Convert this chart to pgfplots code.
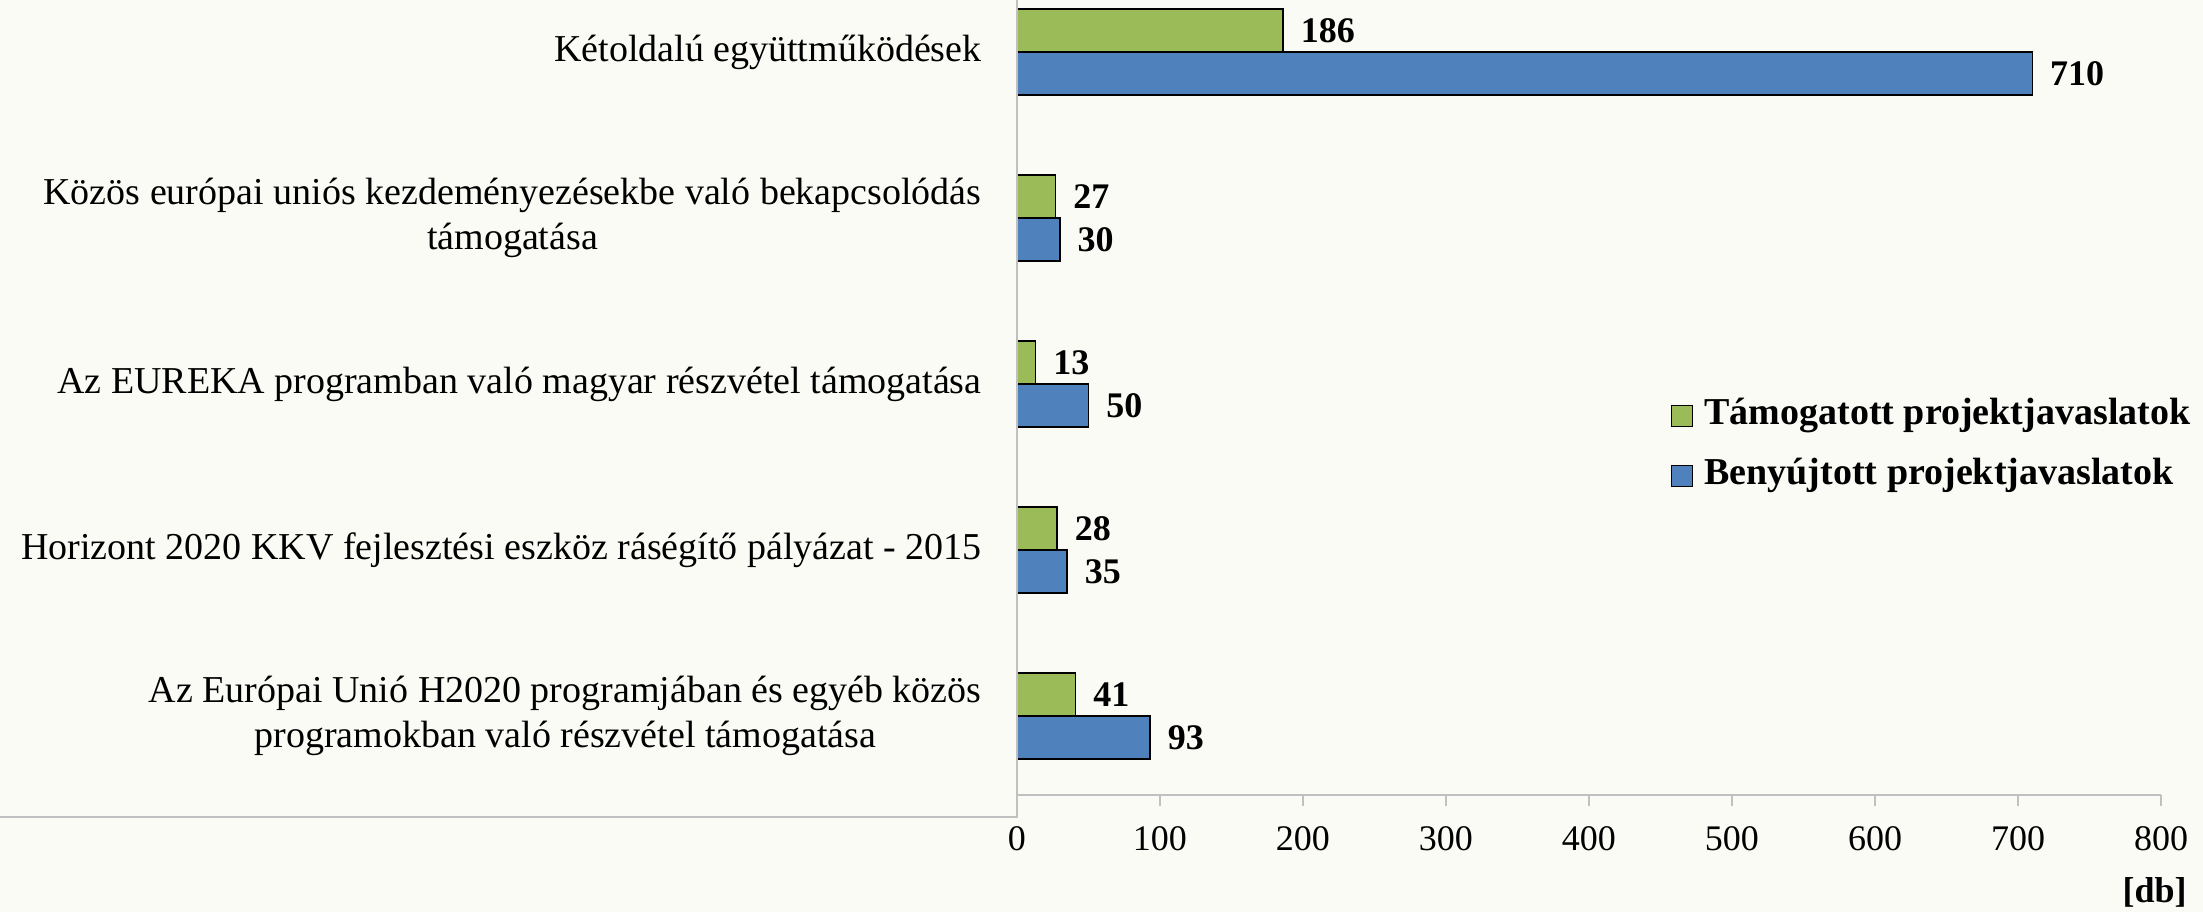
\documentclass[border=0pt]{standalone}
\usepackage{pgfplots}
\pgfplotsset{compat=1.18}
\usepackage{fontspec}
\setmainfont{Liberation Serif}
\definecolor{bgc}{RGB}{250,251,245}
\definecolor{gfill}{RGB}{155,187,89}
\definecolor{bfill}{RGB}{79,129,189}
\definecolor{lgrey}{RGB}{192,192,192}
\begin{document}
\begin{tikzpicture}
\path[use as bounding box, fill=bgc] (-508.5pt,-58.5pt) rectangle (593pt,397.5pt);
\begin{axis}[
  at={(0,0)}, anchor=south west,
  scale only axis, width=572pt, height=397.5pt,
  xbar, bar width=21.5pt,
  xmin=0, xmax=800, ymin=-0.476, ymax=4.313,
  axis x line=bottom, axis y line=left,
  axis line style={-, draw=lgrey, line width=1pt},
  y axis line style={draw=none},
  xtick={0,100,...,800},
  tick align=outside,
  major tick length=5.5pt,
  xtick style={draw=lgrey, line width=1pt},
  ytick={0,1,2,3,4},
  ytick style={draw=none},
  yticklabels={{Az Európai Unió H2020 programjában és egyéb közös\\programokban való részvétel támogatása},
    {Horizont 2020 KKV fejlesztési eszköz ráségítő pályázat - 2015},
    {Az EUREKA programban való magyar részvétel támogatása},
    {Közös európai uniós kezdeményezésekbe való bekapcsolódás\\támogatása},
    {Kétoldalú együttműködések}},
  yticklabel style={align=center, anchor=east, inner sep=0pt, xshift=-12pt, font=\fontsize{19pt}{22.5pt}\selectfont},
  xticklabel style={font=\fontsize{18pt}{20pt}\selectfont, inner sep=0pt, anchor=north, yshift=-10pt},
  /pgf/number format/assume math mode=true,
  nodes near coords,
  every node near coord/.append style={anchor=west, inner sep=0pt, xshift=8.5pt, font=\fontsize{18pt}{20pt}\selectfont\bfseries, black},
  legend style={at={(rel axis cs:0.566,0.439)}, anchor=west, draw=none, fill=none,
    font=\fontsize{19pt}{21pt}\selectfont\bfseries, row sep=14pt, column sep=5.5pt,
    nodes={inner sep=0pt, text height=12pt, text depth=4pt}},
  legend cell align=left,
  legend image code/.code={\draw[#1, draw=black, line width=0.8pt] (0pt,-5.25pt) rectangle (10.5pt,5.25pt);},
]
\addplot[fill=gfill, draw=black, line width=0.8pt, bar shift=10.75pt] coordinates {(186,4) (27,3) (13,2) (28,1) (41,0)};
\addlegendentry{Támogatott projektjavaslatok}
\addplot[fill=bfill, draw=black, line width=0.8pt, bar shift=-10.75pt] coordinates {(710,4) (30,3) (50,2) (35,1) (93,0)};
\addlegendentry{Benyújtott projektjavaslatok}
\end{axis}
\draw[lgrey, line width=1.2pt] (0,397.5pt) -- (0,-11pt) -- (-508.5pt,-11pt);
\node[anchor=base east, inner sep=0pt, font=\fontsize{18pt}{20pt}\selectfont\bfseries] at (585pt,-53.5pt) {[db]};
\end{tikzpicture}
\end{document}
